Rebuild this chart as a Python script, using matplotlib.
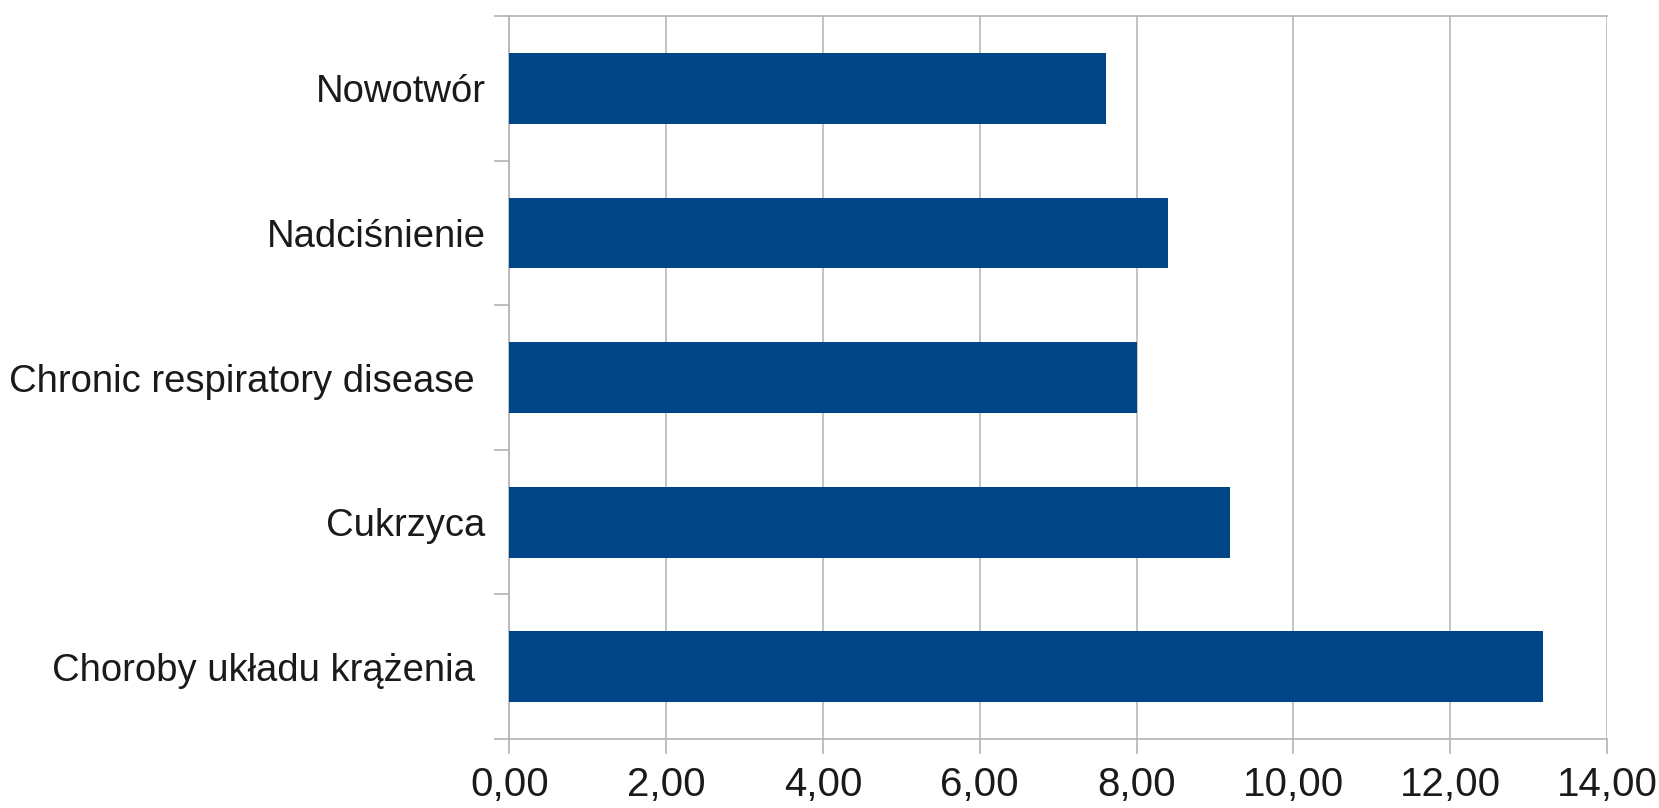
import numpy as np
import matplotlib
matplotlib.use('Agg')
import matplotlib.pyplot as plt
from matplotlib.ticker import FixedLocator

# Data (bottom to top)
categories = ['Choroby układu krążenia ', 'Cukrzyca', 'Chronic respiratory disease ',
              'Nadciśnienie', 'Nowotwór']
values = [13.18, 9.19, 8.00, 8.40, 7.61]
xticks = [0, 2, 4, 6, 8, 10, 12, 14]
xtick_labels = ['0,00', '2,00', '4,00', '6,00', '8,00', '10,00', '12,00', '14,00']

plt.rcParams['font.family'] = ['Liberation Sans', 'DejaVu Sans']

fig = plt.figure(figsize=(16.59, 8.08), dpi=100)
ax = fig.add_axes([0.307, 0.0854, 0.6617, 0.8946])

y = np.arange(len(categories))
ax.barh(y, values, height=0.49, color='#004586', zorder=3)

ax.set_xlim(0, 14)
ax.set_ylim(-0.5, len(categories) - 0.5)

ax.set_xticks(xticks)
ax.set_xticklabels(xtick_labels, fontsize=29, color='#1a1a1a')
ax.set_yticks(y)
ax.set_yticklabels(categories, fontsize=27.5, color='#1a1a1a')
ax.yaxis.set_minor_locator(FixedLocator(np.arange(-0.5, len(categories), 1)))

ax.tick_params(axis='y', which='major', length=0, pad=17)
ax.tick_params(axis='y', which='minor', length=11, width=1.2, color='#b3b3b3')
ax.tick_params(axis='x', length=11, width=1.2, color='#b3b3b3', pad=8.5)

ax.grid(axis='x', color='#b3b3b3', linewidth=1.1, zorder=0)
for side in ['top', 'bottom', 'left']:
    ax.spines[side].set_color('#b3b3b3')
    ax.spines[side].set_linewidth(1.2)
ax.spines['right'].set_visible(False)

fig.savefig('out.png', dpi=100)
